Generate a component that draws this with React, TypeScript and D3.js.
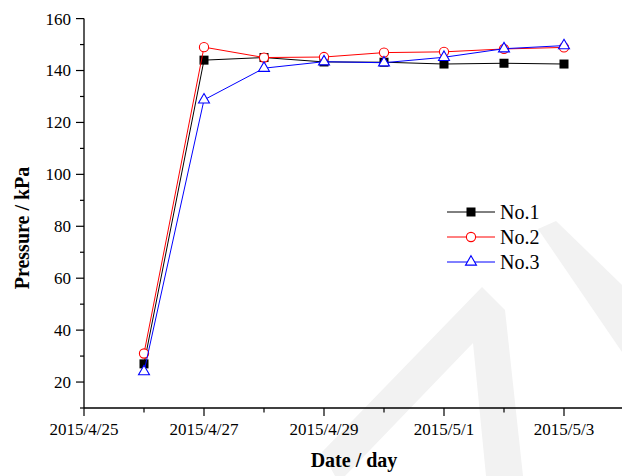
import React from 'react';
import * as d3 from 'd3';

// dates of the readings (one per day)
const dates = ['2015-04-26', '2015-04-27', '2015-04-28', '2015-04-29', '2015-04-30', '2015-05-01', '2015-05-02', '2015-05-03'];
const no1 = [27, 144, 145, 143.3, 143.2, 142.5, 142.8, 142.5];
const no2 = [31, 149, 145, 145.2, 146.9, 147.2, 148.3, 148.9];
const no3 = [24, 128.7, 140.9, 143.4, 143, 145.1, 148.4, 149.6];
const yTicks = [20, 40, 60, 80, 100, 120, 140, 160];
const seriesNames = ['No.1', 'No.2', 'No.3'];

const W = 622;
const H = 476;
const left = 84;
const top = 18.6;
const bottom = 408;
const right = 624;

const parse = (s: string) => {
  const [y, m, d] = s.split('-').map(Number);
  return new Date(y, m - 1, d);
};

const fmt = (d: Date) => `${d.getFullYear()}/${d.getMonth() + 1}/${d.getDate()}`;

const serif = "'Liberation Serif', 'Times New Roman', Times, serif";

const App = () => {
  const x = d3.scaleTime()
    .domain([new Date(2015, 3, 25), new Date(2015, 4, 4)])
    .range([left, right]);
  const y = d3.scaleLinear().domain([10, 160]).range([bottom, top]);

  const dayTicks = d3.timeDay.range(new Date(2015, 3, 25), new Date(2015, 4, 4));
  const minorY = d3.range(10, 161, 10);

  const series = [
    { name: seriesNames[0], values: no1, color: '#000000', marker: 'square' },
    { name: seriesNames[1], values: no2, color: '#ff0000', marker: 'circle' },
    { name: seriesNames[2], values: no3, color: '#0000ff', marker: 'triangle' },
  ];

  const line = d3.line<number>()
    .x((d, i) => x(parse(dates[i])))
    .y(d => y(d));

  const marker = (kind: string, cx: number, cy: number, color: string, key: string | number) => {
    if (kind === 'square') {
      return <rect key={key} x={cx - 4.5} y={cy - 4.5} width={9} height={9} fill={color} />;
    }
    if (kind === 'circle') {
      return <circle key={key} cx={cx} cy={cy} r={4.6} fill="#fff" stroke={color} strokeWidth={1.1} />;
    }
    const tri = d3.symbol(d3.symbolTriangle, 52)();
    return <path key={key} d={tri || ''} transform={`translate(${cx},${cy})`} fill="#fff" stroke={color} strokeWidth={1.1} />;
  };

  const txt = { fontFamily: serif };

  return (
    <svg width={W} height={H} style={{ position: 'absolute', left: 0, top: 0, background: '#fff', fontFamily: serif }}>
      {/* faint watermark in the background */}
      <polygon points="322,452 482,287 505,310 523,476 486,476 473,343 345,476 335,476" fill="#f2f2f2" />
      <polygon points="538,229 556,221 622,285 622,352" fill="#f2f2f2" />

      {/* y axis */}
      <line x1={left} x2={left} y1={top} y2={bottom} stroke="#000" strokeWidth={1.3} />
      {minorY.map(v => (
        <line key={'my' + v} x1={left - (v % 20 === 0 ? 8 : 4)} x2={left} y1={y(v)} y2={y(v)} stroke="#000" strokeWidth={1.2} />
      ))}
      {yTicks.map(v => (
        <text key={'yt' + v} x={left - 13} y={y(v)} dy="0.35em" textAnchor="end" fontSize={17} style={txt}>{v}</text>
      ))}

      {/* x axis */}
      <line x1={left} x2={right} y1={bottom} y2={bottom} stroke="#000" strokeWidth={1.3} />
      {dayTicks.map((d, i) => (
        <line key={'xt' + i} x1={x(d)} x2={x(d)} y1={bottom} y2={bottom + (i % 2 === 0 ? 8 : 4.5)} stroke="#000" strokeWidth={1.2} />
      ))}
      {dayTicks.filter((d, i) => i % 2 === 0).map((d, i) => (
        <text key={'xl' + i} x={x(d)} y={bottom + 27} textAnchor="middle" fontSize={17} style={txt}>{fmt(d)}</text>
      ))}

      {/* axis titles */}
      <text x={354} y={467} textAnchor="middle" fontSize={20} fontWeight="bold" style={txt}>Date / day</text>
      <text transform="translate(29,228) rotate(-90)" textAnchor="middle" fontSize={20} fontWeight="bold" style={txt}>Pressure / kPa</text>

      {/* series */}
      {series.map(s => (
        <g key={s.name}>
          <path d={line(s.values) || ''} fill="none" stroke={s.color} strokeWidth={1} />
          {s.values.map((v, i) => marker(s.marker, x(parse(dates[i])), y(v), s.color, i))}
        </g>
      ))}

      {/* legend */}
      {series.map((s, i) => {
        const ly = 212 + i * 25;
        return (
          <g key={'lg' + s.name}>
            <line x1={447} x2={495} y1={ly} y2={ly} stroke={s.color} strokeWidth={1} />
            {marker(s.marker, 471, ly, s.color, 'm')}
            <text x={500} y={ly} dy="0.35em" fontSize={20} style={txt}>{s.name}</text>
          </g>
        );
      })}
    </svg>
  );
};

export default App;
